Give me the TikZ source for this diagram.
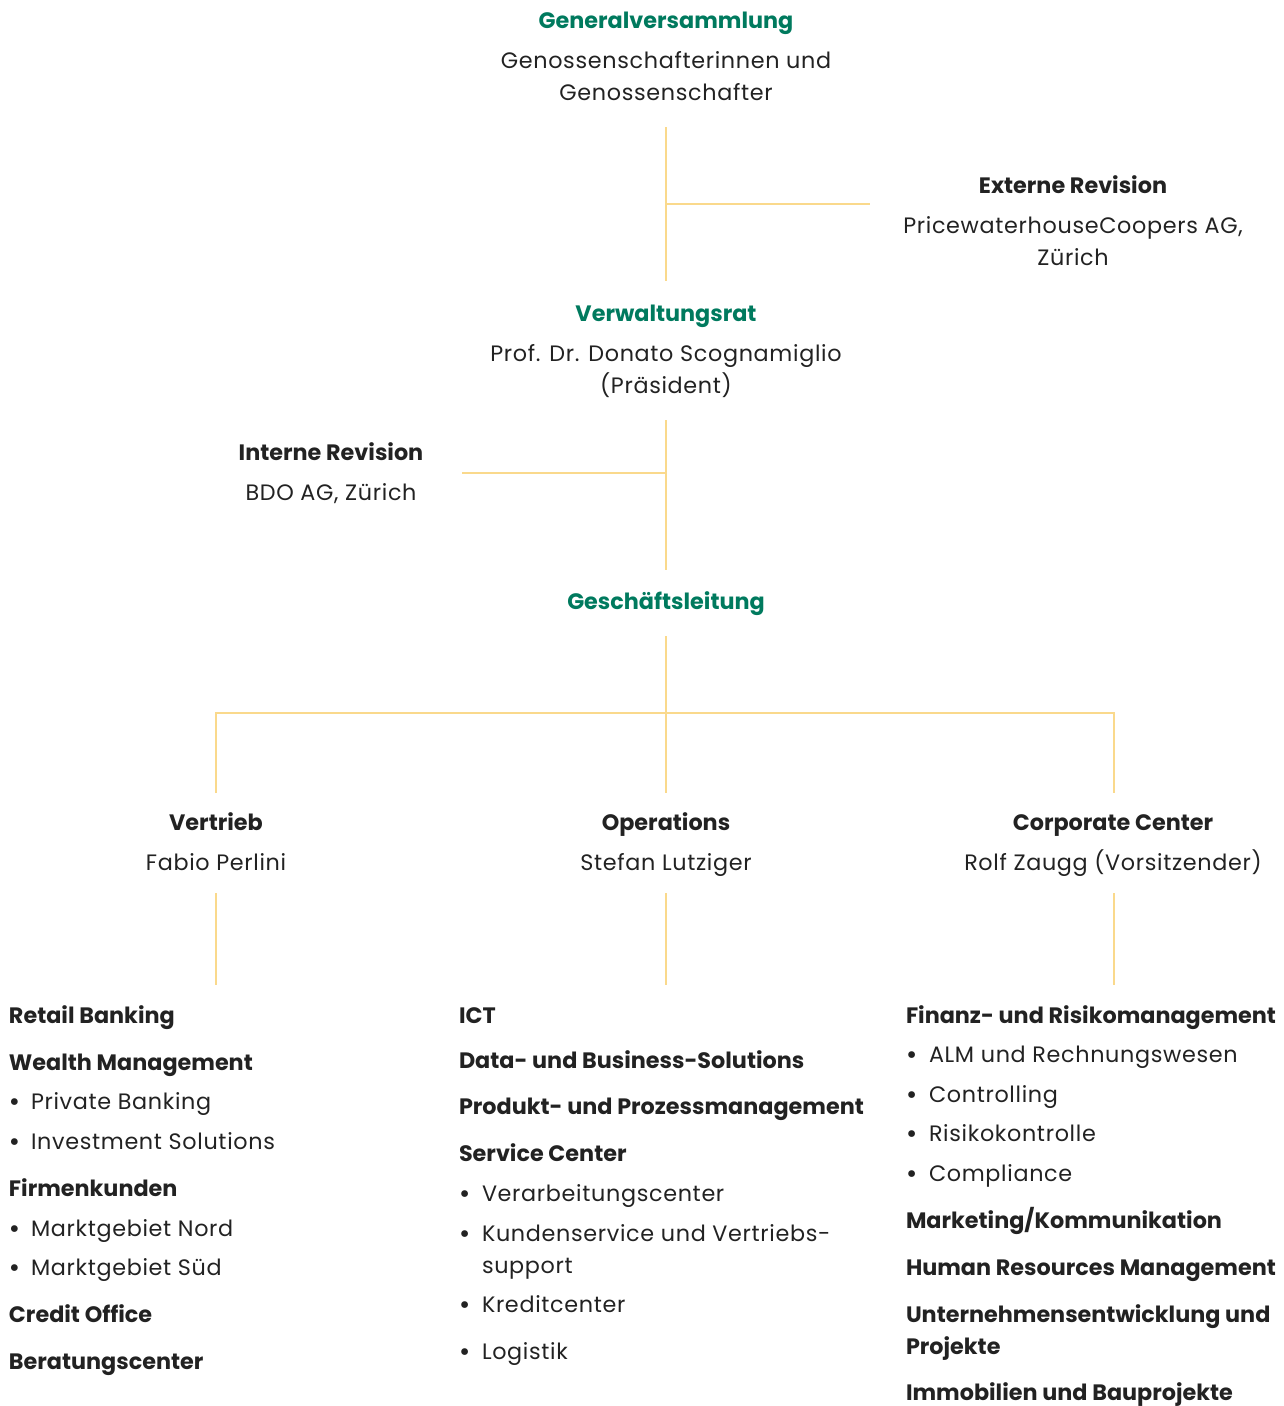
\documentclass[tikz,border=0pt]{standalone}
\usepackage{fontspec}
\setmainfont{Poppins}
\newfontfamily\regfont[LetterSpace=3]{Poppins}
\definecolor{hgreen}{HTML}{007A5E}
\definecolor{htext}{HTML}{222222}
\definecolor{hline}{HTML}{FAD98C}
\begin{document}
\begin{tikzpicture}[x=1pt,y=-1pt,
  every node/.style={inner sep=0pt,outer sep=0pt,text=htext,font=\regfont\fontsize{22.3}{26}\selectfont},
  head/.style={anchor=base,text=hgreen,font=\rmfamily\fontsize{22.3}{26}\selectfont\bfseries},
  bhead/.style={anchor=base,font=\rmfamily\fontsize{22.3}{26}\selectfont\bfseries},
  sub/.style={anchor=base},
  item/.style={anchor=base west,font=\rmfamily\fontsize{22.3}{26}\selectfont\bfseries},
  litem/.style={anchor=base west},
  bul/.style={anchor=base west,font=\rmfamily\fontsize{22.3}{26}\selectfont\bfseries},
  conn/.style={draw=hline,line width=2pt}]
\useasboundingbox (0,0) rectangle (1284,1406);
% top
\node[head] (gv) at (666,28) {Generalversammlung};
\node[sub] (gv1) at (666,68) {Genossenschafterinnen und};
\node[sub] (gv2) at (666,100) {Genossenschafter};
\node[bhead] (er) at (1073,193) {Externe Revision};
\node[sub] (er1) at (1073,233) {PricewaterhouseCoopers AG,};
\node[sub] (er2) at (1073,265) {Zürich};
\node[head] (vr) at (666,321) {Verwaltungsrat};
\node[sub] (vr1) at (666,361) {Prof. Dr. Donato Scognamiglio};
\node[sub] (vr2) at (666,393) {(Präsident)};
\node[bhead] (ir) at (331,460) {Interne Revision};
\node[sub] (ir1) at (331,500) {BDO AG, Zürich};
\node[head] (gl) at (666,609) {Geschäftsleitung};
\node[bhead] (vt) at (216,830) {Vertrieb};
\node[sub] (vt1) at (216,870) {Fabio Perlini};
\node[bhead] (op) at (666,830) {Operations};
\node[sub] (op1) at (666,870) {Stefan Lutziger};
\node[bhead] (cc) at (1113,830) {Corporate Center};
\node[sub] (cc1) at (1113,870) {Rolf Zaugg (Vorsitzender)};
% connector coordinates
\coordinate (a1) at (666,127); \coordinate (a2) at (666,281);
\coordinate (a3) at (666,204); \coordinate (a4) at (870,204);
\coordinate (b1) at (666,420); \coordinate (b2) at (666,570);
\coordinate (b3) at (462,473); \coordinate (b4) at (666,473);
\coordinate (c1) at (666,636); \coordinate (c2) at (666,793);
\coordinate (c3) at (216,713); \coordinate (c4) at (1114,713);
\coordinate (c5) at (216,793); \coordinate (c6) at (1114,793);
\coordinate (d1) at (216,893); \coordinate (d2) at (216,985);
\coordinate (d3) at (666,893); \coordinate (d4) at (666,985);
\coordinate (d5) at (1114,893); \coordinate (d6) at (1114,985);
\draw[conn] (a1) -- (a2); \draw[conn] (a3) -- (a4);
\draw[conn] (b1) -- (b2); \draw[conn] (b3) -- (b4);
\draw[conn] (c1) -- (c2);
\draw[conn] (c5) -- (c3) -- (c4) -- (c6);
\draw[conn] (d1) -- (d2); \draw[conn] (d3) -- (d4); \draw[conn] (d5) -- (d6);
% left column
\node[item] (l1) at (9,1023) {Retail Banking};
\node[item] (l2) at (9,1070) {Wealth Management};
\node[bul] (l3b) at (9,1109) {•}; \node[litem] (l3) at (31,1109) {Private Banking};
\node[bul] (l4b) at (9,1149) {•}; \node[litem] (l4) at (31,1149) {Investment Solutions};
\node[item] (l5) at (9,1196) {Firmenkunden};
\node[bul] (l6b) at (9,1236) {•}; \node[litem] (l6) at (31,1236) {Marktgebiet Nord};
\node[bul] (l7b) at (9,1275) {•}; \node[litem] (l7) at (31,1275) {Marktgebiet Süd};
\node[item] (l8) at (9,1322) {Credit Office};
\node[item] (l9) at (9,1369) {Beratungscenter};
% middle column
\node[item] (m1) at (459,1023) {ICT};
\node[item] (m2) at (459,1068) {Data- und Business-Solutions};
\node[item] (m3) at (459,1114) {Produkt- und Prozessmanagement};
\node[item] (m4) at (459,1161) {Service Center};
\node[bul] (m5b) at (459,1201) {•}; \node[litem] (m5) at (482,1201) {Verarbeitungscenter};
\node[bul] (m6b) at (459,1241) {•}; \node[litem] (m6) at (482,1241) {Kundenservice und Vertriebs-};
\node[litem] (m6a) at (482,1273) {support};
\node[bul] (m7b) at (459,1312) {•}; \node[litem] (m7) at (482,1312) {Kreditcenter};
\node[bul] (m8b) at (459,1359) {•}; \node[litem] (m8) at (482,1359) {Logistik};
% right column
\node[item] (r1) at (906,1023) {Finanz- und Risikomanagement};
\node[bul] (r2b) at (906,1062) {•}; \node[litem] (r2) at (929,1062) {ALM und Rechnungswesen};
\node[bul] (r3b) at (906,1102) {•}; \node[litem] (r3) at (929,1102) {Controlling};
\node[bul] (r4b) at (906,1141) {•}; \node[litem] (r4) at (929,1141) {Risikokontrolle};
\node[bul] (r5b) at (906,1181) {•}; \node[litem] (r5) at (929,1181) {Compliance};
\node[item] (r6) at (906,1228) {Marketing/Kommunikation};
\node[item] (r7) at (906,1275) {Human Resources Management};
\node[item] (r8) at (906,1322) {Unternehmensentwicklung und};
\node[item] (r8a) at (906,1354) {Projekte};
\node[item] (r9) at (906,1400) {Immobilien und Bauprojekte};
\end{tikzpicture}
\end{document}
